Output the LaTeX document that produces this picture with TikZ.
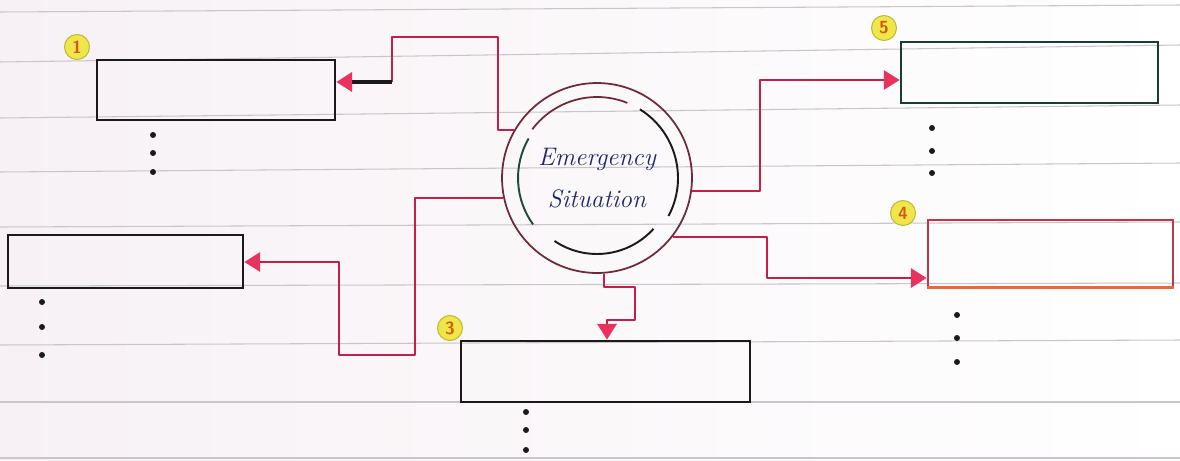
\documentclass[tikz,border=0pt]{standalone}
\usetikzlibrary{arrows.meta}
\usepackage{xcolor}
\definecolor{Paper}{HTML}{F7F1F5}
\definecolor{Rule}{HTML}{C9C5CA}
\definecolor{Ink}{HTML}{1A1A1A}
\definecolor{Crimson}{HTML}{C41E4A}
\definecolor{Tip}{HTML}{E8335F}
\definecolor{Pine}{HTML}{1E3B33}
\definecolor{Brick}{HTML}{C2344A}
\definecolor{Peach}{HTML}{E9693F}
\definecolor{Marker}{HTML}{EFE64A}
\definecolor{Amber}{HTML}{D4581A}
\definecolor{Wine}{HTML}{6E2A38}
\definecolor{Navy}{HTML}{1F2668}
\definecolor{Moss}{HTML}{1F4A35}

\begin{document}
\begin{tikzpicture}[x=0.02cm,y=-0.02cm,
  slot/.style={draw=Ink,line width=1.6pt,inner sep=0pt},
  tag/.style={circle,fill=Marker,draw=Marker!80!black,line width=0.6pt,inner sep=0pt,minimum size=0.5cm,text=Amber,font=\sffamily\bfseries},
  link/.style={draw=Crimson,line width=1.3pt,line join=round},
  head/.style={-{Triangle[length=9pt,width=11pt,color=Tip]}}]
\useasboundingbox (0,0) rectangle (1180,460);
\shade[left color=Paper,right color=white] (0,0) rectangle (1180,460);
\foreach \a/\b in {12/5,62/45,118/105,172/163,227/222,286/283,345/340,402/402,458/458}{\draw[Rule,line width=0.6pt] (0,\a)--(1180,\b);}
% boxes and markers
\node[slot,minimum width=4.76cm,minimum height=1.2cm] (b1) at (216,90){};
\node[slot,minimum width=4.7cm,minimum height=1.06cm] (b2) at (125.5,261.5){};
\node[slot,minimum width=5.78cm,minimum height=1.22cm] (b3) at (605.5,371.5){};
\node[slot,draw=Brick,minimum width=4.9cm,minimum height=1.34cm] (b4) at (1050.5,253.5){};
\node[slot,draw=Pine,minimum width=5.14cm,minimum height=1.22cm] (b5) at (1029.5,72.5){};
\draw[Peach,line width=1.4pt] ([yshift=0.4pt]b4.south west) -- ([yshift=0.4pt]b4.south east);
\node[tag] (t1) at (77,47){1};\node[tag] (t3) at (450,328){3};\node[tag] (t4) at (903,213){4};\node[tag] (t5) at (884,28){5};
\foreach \x/\y in {153/135,153/153,153/172,42/302,42/327,42/355,526/412,526/430,526/450,957/315,957/338,957/362,932/128,932/151,932/173}{\fill[Ink] (\x,\y) circle (1.7pt);}
% centre
\node[circle,draw=Wine,line width=1pt,minimum size=3.8cm,align=center,text=Navy,font=\itshape\Large] (sit) at (597,178){Emergency\\[6pt]Situation};
\draw[Wine,line width=1pt] (sit.center) ++(68:1.62cm) arc[start angle=68,end angle=143,radius=1.62cm];
\draw[Ink,line width=1.1pt] (sit.center) ++(-28:1.62cm) arc[start angle=-28,end angle=58,radius=1.62cm];
\draw[Moss,line width=1.1pt] (sit.center) ++(150:1.58cm) arc[start angle=150,end angle=216,radius=1.58cm];
\draw[Ink,line width=1.1pt] (sit.center) ++(236:1.52cm) arc[start angle=236,end angle=318,radius=1.52cm];
% connectors
\draw[link] (sit.150) -| (498,37) -| (392,82);
\draw[Ink,line width=1.8pt,head] (392,82) -- (b1.east |- 0,82);
\draw[link,head] (sit.192) -| (415,355) -| (339,262) -- (b2.east |- 0,262);
\draw[link,head] (sit.274) |- (635,287) |- (607,320) -- (b3.north -| 607,0);
\draw[link,head] (sit.352) -| (760,80) -- (b5.west |- 0,80);
\draw[link,head] (sit.322) -| (767,278) -- (b4.west |- 0,278);
\end{tikzpicture}
\end{document}
